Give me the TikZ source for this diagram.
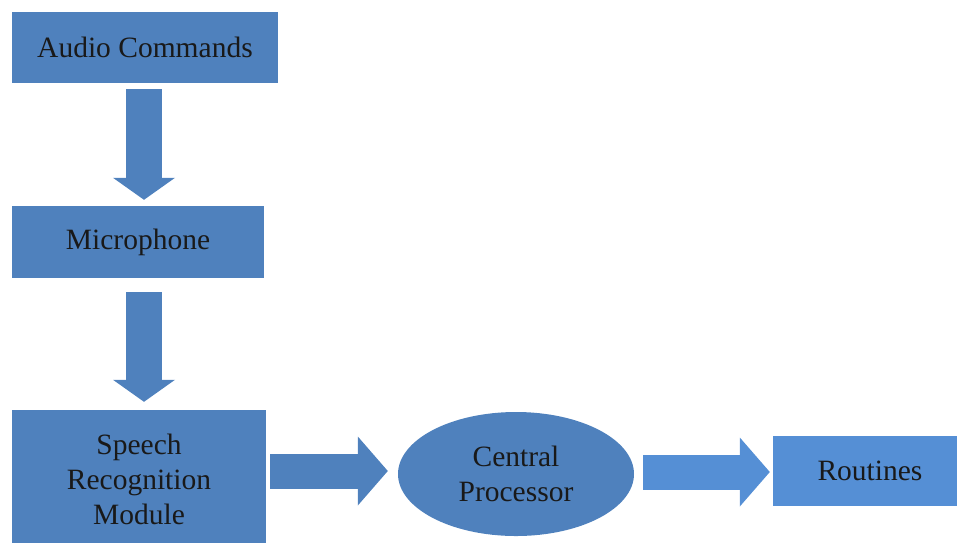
\documentclass[tikz,border=0pt]{standalone}
\usepackage{fontspec}
\setmainfont{Liberation Serif}
\usepackage{tikz}
\usetikzlibrary{calc}
\usetikzlibrary{arrows.meta}
\usetikzlibrary{shapes.geometric}

\definecolor{boxblue}{RGB}{79,129,189}
\definecolor{lightblue}{RGB}{85,143,213}

\begin{document}
\begin{tikzpicture}[x=1pt, y=-1pt,
		block/.style={fill=boxblue, inner sep=0pt, align=center, text=black!90, font=\fontsize{29.5}{35}\selectfont},
		flow/.style={boxblue, line width=36pt, -{Triangle[length=22pt, width=62pt, line width=0pt]}},
		wideflow/.style={boxblue, line width=35pt, -{Triangle[length=30pt, width=69pt, line width=0pt]}}]
			% \draw[very thin, gray, dashed](0, 0)grid[step=50](957, 542);
			\useasboundingbox (0, 0) rectangle (957, 542);

			\node[block, minimum width=266pt, minimum height=71pt] (audio) at (145, 47.5) {Audio Commands};
			\node[block, minimum width=252pt, minimum height=72pt] (mic) at (138, 242) {Microphone};
			\node[block, minimum width=254pt, minimum height=138pt] (srm) at (139, 479) {Speech\\Recognition\\Module};
			\node[block, ellipse, minimum width=236pt, minimum height=124pt] (cpu) at (516, 474) {Central\\Processor};
			\node[block, fill=lightblue, minimum width=194pt, minimum height=70pt] (routines) at (870, 471) {Routines};

			\draw[flow]($(audio.south)+(-1, 6)$)--($(mic.north)+(6, -6)$);
			\draw[flow]($(mic.south)+(6, 14)$)--($(srm.north)+(5, -8)$);
			\draw[wideflow]($(srm.east)+(4, -8)$)--($(cpu.west)+(-10, -3)$);
			\draw[wideflow, lightblue]($(cpu.east)+(9, -2)$)--($(routines.west)+(-3, 1)$);
		\end{tikzpicture}
\end{document}
